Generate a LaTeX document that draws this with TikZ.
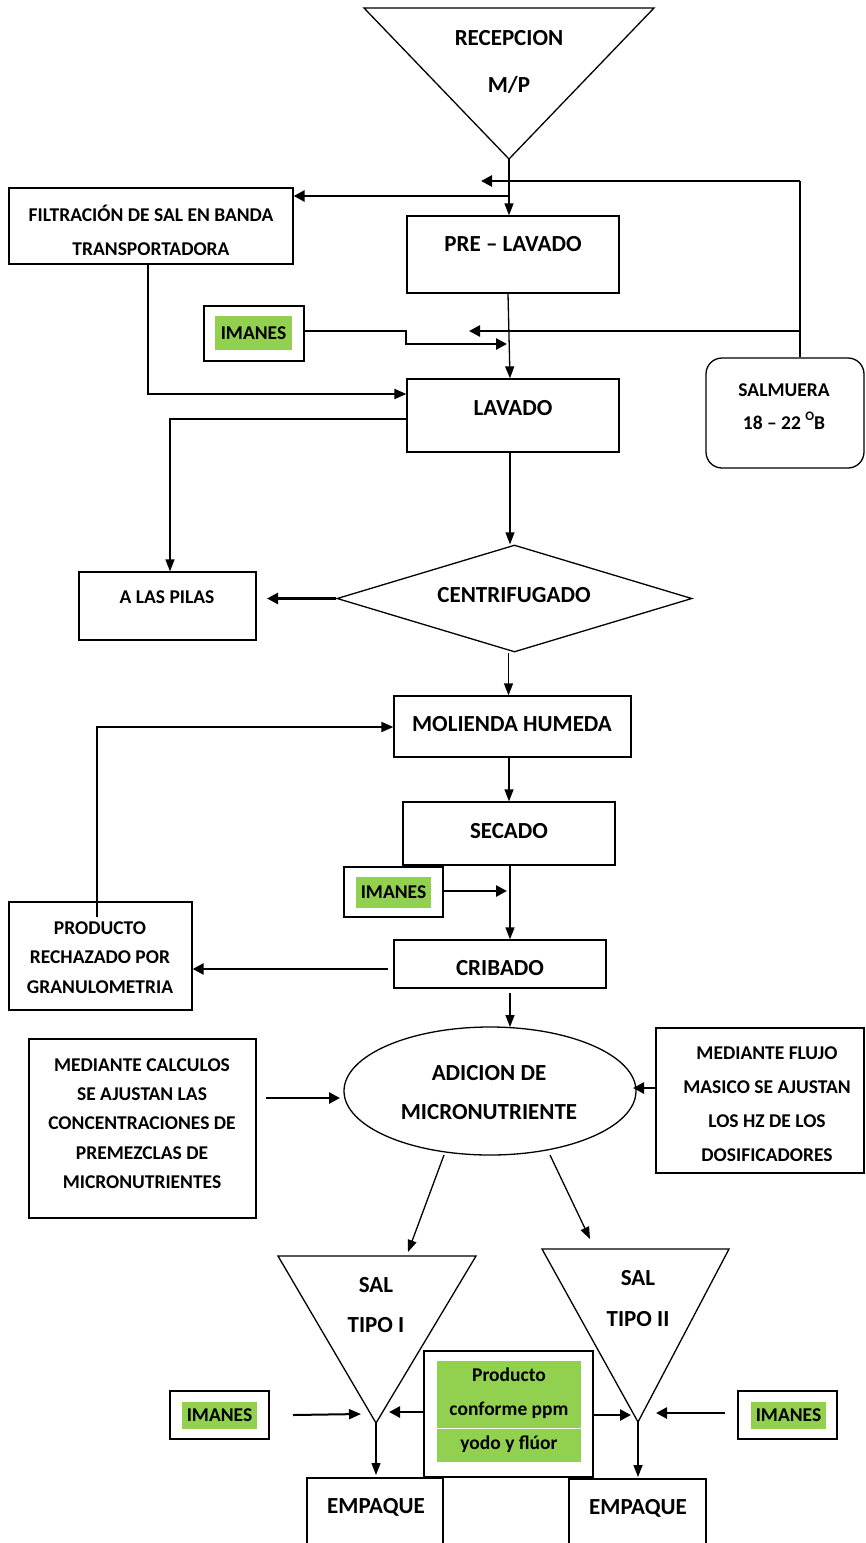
\documentclass[tikz,border=0pt]{standalone}
\usepackage{fontspec}
\setmainfont{Carlito}
\usetikzlibrary{shapes.geometric,arrows.meta}
\definecolor{imgreen}{HTML}{92D050}
\begin{document}
\begin{tikzpicture}[x=1pt,y=-1pt,
  box/.style={draw, line width=1.3pt, inner sep=0, fill=white},
  lbl/.style={font=\bfseries\fontsize{23}{#1}\selectfont, align=center, inner sep=0},
  lbl/.default=28,
  slbl/.style={font=\bfseries\fontsize{19.5}{#1}\selectfont, align=center, inner sep=0},
  slbl/.default=24,
  ln/.style={line width=1.3pt},
  arr/.style={line width=1.3pt, -{Triangle[length=12pt,width=9pt]}},
  marr/.style={line width=2pt, -{Triangle[length=12pt,width=10pt]}},
  tarr/.style={line width=2.6pt, -{Triangle[length=11pt,width=11pt]}},
  greenbg/.style={fill=imgreen, draw=none, inner sep=0},
]
\useasboundingbox (0,0) rectangle (866,1543);

% ---------- shapes ----------
% RECEPCION triangle
\draw[ln] (364,8) -- (654,8) -- (509,159) -- cycle;
\coordinate (recapex) at (509,159);
\node[lbl=47] (rectxt) at (509,61.5) {RECEPCION\\M/P};

\node[box, minimum width=284pt, minimum height=76pt] (filt) at (151,226) {};
\node[slbl=34] (filttxt) at (151,230) {FILTRACIÓN DE SAL EN BANDA\\TRANSPORTADORA};

\node[box, minimum width=212pt, minimum height=77pt] (prelav) at (513,254.5) {};
\node[lbl] (prelavtxt) at (513,244) {PRE -- LAVADO};

\node[box, minimum width=100pt, minimum height=55pt] (im1) at (254,333.5) {};
\node[greenbg, minimum width=77pt, minimum height=34pt] (im1g) at (253.5,333) {};
\node[slbl] (im1txt) at (253.5,333) {IMANES};

\node[box, minimum width=212pt, minimum height=73pt] (lav) at (513,415.5) {};
\node[lbl] (lavtxt) at (513,408) {LAVADO};

\node[box, rounded corners=16pt, minimum width=158pt, minimum height=110pt] (salm) at (785,413) {};
\node[slbl=33] (salmtxt) at (784,406.5) {SALMUERA\\18 -- 22 \raisebox{0.45em}{\fontsize{13}{13}\selectfont O}B};

\node[box, minimum width=177pt, minimum height=68pt] (pilas) at (167.5,606) {};
\node[slbl] (pilastxt) at (167,597) {A LAS PILAS};

\node[box, diamond, minimum width=355pt, minimum height=107pt] (cent) at (514.5,598.5) {};
\node[lbl] (centtxt) at (514,595) {CENTRIFUGADO};

\node[box, minimum width=237pt, minimum height=61pt] (mol) at (512.5,726.5) {};
\node[lbl] (moltxt) at (512,724) {MOLIENDA HUMEDA};

\node[box, minimum width=212pt, minimum height=63pt] (sec) at (509,833.5) {};
\node[lbl] (sectxt) at (509,831) {SECADO};

\node[box, minimum width=99pt, minimum height=50pt] (im2) at (393.5,892) {};
\node[greenbg, minimum width=75pt, minimum height=31pt] (im2g) at (393.5,892.5) {};
\node[slbl] (im2txt) at (393.5,892.5) {IMANES};

\node[box, minimum width=212pt, minimum height=48pt] (crib) at (500,964) {};
\node[lbl] (cribtxt) at (500,968) {CRIBADO};

\node[box, minimum width=183pt, minimum height=108pt] (prod) at (100.5,956) {};
\node[slbl=29.5] (prodtxt) at (100,957.5) {PRODUCTO\\RECHAZADO POR\\GRANULOMETRIA};

\node[box, ellipse, minimum width=292pt, minimum height=128pt] (adic) at (490,1091) {};
\node[lbl=39] (adictxt) at (489,1092.5) {ADICION DE\\MICRONUTRIENTE};

\node[box, minimum width=227pt, minimum height=179pt] (calc) at (142.5,1128.5) {};
\node[slbl=29.3] (calctxt) at (142,1123.5) {MEDIANTE CALCULOS\\SE AJUSTAN LAS\\CONCENTRACIONES DE\\PREMEZCLAS DE\\MICRONUTRIENTES};

\node[box, minimum width=208pt, minimum height=145pt] (flujo) at (760,1100.5) {};
\node[slbl=34] (flujotxt) at (767,1104) {MEDIANTE FLUJO\\MASICO SE AJUSTAN\\LOS HZ DE LOS\\DOSIFICADORES};

% SAL triangles
\draw[ln] (278,1256) -- (476,1256) -- (376,1423) -- cycle;
\coordinate (ta) at (376,1423);
\node[lbl=40] (tatxt) at (376,1305) {SAL\\TIPO I};
\draw[ln] (542,1249) -- (729,1249) -- (638,1422) -- cycle;
\coordinate (tb) at (638,1422);
\node[lbl=41] (tbtxt) at (638,1298.5) {SAL\\TIPO II};

% Producto conforme
\node[box, minimum width=169pt, minimum height=126pt] (prodc) at (508.5,1414) {};
\node[greenbg, minimum width=144pt, minimum height=101pt] (prodcg) at (509,1411.5) {};
\coordinate (wl1) at (437,1428);
\coordinate (wl2) at (581,1428);
\draw[white, line width=1pt] (wl1) -- (wl2);
\node[slbl=34] (prodctxt) at (509,1410) {Producto\\conforme ppm\\yodo y flúor};

\node[box, minimum width=99pt, minimum height=48pt] (im3) at (219.5,1415) {};
\node[greenbg, minimum width=75pt, minimum height=27pt] (im3g) at (219.5,1415) {};
\node[slbl] (im3txt) at (219.5,1415) {IMANES};

\node[box, minimum width=99pt, minimum height=48pt] (im4) at (787.5,1415) {};
\node[greenbg, minimum width=75pt, minimum height=27pt] (im4g) at (788.5,1415) {};
\node[slbl] (im4txt) at (788.5,1415) {IMANES};

% EMPAQUE (open at the bottom)
\coordinate (e1a) at (307,1543); \coordinate (e1b) at (307,1478);
\coordinate (e1c) at (443,1478); \coordinate (e1d) at (443,1543);
\draw[ln] (e1a) -- (e1b) -- (e1c) -- (e1d);
\node[lbl] (emp1txt) at (376,1507) {EMPAQUE};
\coordinate (e2a) at (569,1543); \coordinate (e2b) at (569,1479);
\coordinate (e2c) at (706,1479); \coordinate (e2d) at (706,1543);
\draw[ln] (e2a) -- (e2b) -- (e2c) -- (e2d);
\node[lbl] (emp2txt) at (638,1508) {EMPAQUE};

% ---------- connectors ----------
\draw[arr] (recapex) -- (recapex |- prelav.north);
\coordinate (b1) at (509,196);
\draw[tarr] (b1) -- (b1 -| filt.east);

\coordinate (c1) at (800,181); \coordinate (c1t) at (481,181);
\coordinate (c2) at (800,331); \coordinate (c2t) at (469,331);
\draw[ln] (salm.north -| c1) -- (c1);
\draw[tarr] (c1) -- (c1t);
\draw[tarr] (c2) -- (c2t);

\coordinate (i1a) at (406,331); \coordinate (i1b) at (406,344); \coordinate (i1c) at (507,344);
\draw[tarr] (im1.east |- i1a) -- (i1a) -- (i1b) -- (i1c);

\draw[arr] ([xshift=-5pt]prelav.south) -- ([xshift=-3pt]lav.north);

\coordinate (f1) at (148,394);
\draw[marr] (filt.south -| f1) -- (f1) -- (f1 -| lav.west);

\coordinate (l1) at (170,419);
\draw[arr] (lav.west |- l1) -- (l1) -- (l1 |- pilas.north);

\draw[arr] ([xshift=-3pt]lav.south) -- ([xshift=-3pt]lav.south |- cent.north);

\coordinate (d1) at (267,598.5);
\draw[tarr] (cent.west) -- (d1);

\draw[arr] ([xshift=-6pt]cent.south) -- ([xshift=-6pt]cent.south |- mol.north);

\coordinate (p1) at (97,917); \coordinate (p2) at (97,727);
\draw[marr] (p1) -- (p2) -- (p2 -| mol.west);

\draw[arr] ([xshift=-3.5pt]mol.south) -- ([xshift=-3.5pt]mol.south |- sec.north);

\coordinate (i2) at (507,891);
\draw[tarr] (im2.east |- i2) -- (i2);

\draw[arr] ([xshift=1pt]sec.south) -- ([xshift=1pt]sec.south |- crib.north);

\coordinate (cr1) at (388,969);
\draw[tarr] (cr1) -- (cr1 -| prod.east);

\coordinate (cr2) at (510,993); \coordinate (cr3) at (510,1027);
\draw[arr] (cr2) -- (cr3);

\coordinate (k1) at (266,1098); \coordinate (k2) at (340,1098);
\draw[tarr] (k1) -- (k2);

\coordinate (fl1) at (633,1088);
\draw[tarr] (flujo.west |- fl1) -- (fl1);

\coordinate (g1) at (444,1155); \coordinate (g1t) at (408,1252);
\coordinate (g2) at (550,1155); \coordinate (g2t) at (590,1239);
\draw[arr] (g1) -- (g1t);
\draw[arr] (g2) -- (g2t);

\coordinate (m3a) at (293,1415); \coordinate (m3b) at (361,1414);
\draw[marr] (m3a) -- (m3b);
\coordinate (pl) at (389,1412);
\draw[tarr] (prodc.west |- pl) -- (pl);
\coordinate (pr) at (631,1415);
\draw[tarr] (prodc.east |- pr) -- (pr);
\coordinate (m4a) at (725,1413); \coordinate (m4b) at (656,1413);
\draw[tarr] (m4a) -- (m4b);

\coordinate (ta2) at (376,1475);
\draw[arr] (ta) -- (ta2);
\coordinate (tb2) at (638,1477);
\draw[arr] (tb) -- (tb2);
\end{tikzpicture}
\end{document}
